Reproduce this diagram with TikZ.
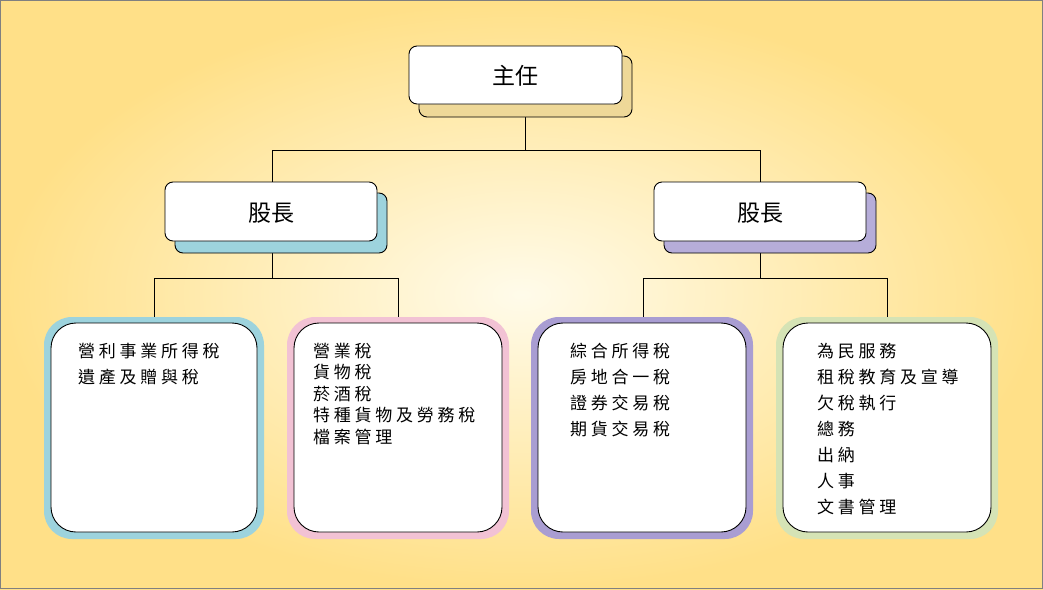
\documentclass[tikz,border=0pt]{standalone}
\usepackage{fontspec}
\newfontfamily\cjk{Noto Sans CJK TC}
\newfontfamily\cjkb[LetterSpace=22]{Noto Sans CJK TC}
\begin{document}
\begin{tikzpicture}[x=1pt,y=-1pt,
  front/.style={fill=white,draw=black,line width=0.9pt,rounded corners=8pt},
  shad/.style={draw=black,line width=0.9pt,rounded corners=8pt},
  ring/.style={rounded corners=28pt},
  inner/.style={fill=white,draw=black,line width=0.9pt,rounded corners=25pt},
  conn/.style={draw=black,line width=0.9pt},
  title/.style={font=\cjk\fontsize{23}{27}\selectfont},
  body/.style={font=\cjkb\fontsize{17}{20}\selectfont,anchor=west,inner sep=0pt}]
\definecolor{bgY}{HTML}{FFE088}
\definecolor{bgC}{HTML}{FFFBEA}
\definecolor{tan}{HTML}{EED898}
\definecolor{teal}{HTML}{9DD3DD}
\definecolor{lav}{HTML}{B6ADD9}
\definecolor{pink}{HTML}{F2C2D4}
\definecolor{purp}{HTML}{A99DD2}
\definecolor{grn}{HTML}{D5E3B5}
\useasboundingbox (0,0) rectangle (1043,589);
\shade[inner color=bgC,outer color=bgY] (0,0) rectangle (1043,589);
\draw[gray,line width=1pt] (0.5,0.5) rectangle (1042.5,588.5);
% connectors
\coordinate (t1) at (525,150); \coordinate (tl) at (272,150); \coordinate (tr) at (760,150);
\draw[conn] (525,117) -- (t1) (tl) -- (tr) (tl) -- (272,182) (tr) -- (760,182);
\coordinate (l1) at (272,278); \coordinate (r1) at (760,278);
\draw[conn] (272,253) -- (l1) (154,278) -- (398,278) (154,278) -- (154,320) (398,278) -- (398,320);
\draw[conn] (760,253) -- (r1) (643,278) -- (887,278) (643,278) -- (643,320) (887,278) -- (887,320);
% top
\draw[shad,fill=tan] (419,56) rectangle (632,117);
\draw[front] (409,46) rectangle (622,104);
\node[title] (boss) at (515,76) {主任};
\draw[shad,fill=teal] (175,193) rectangle (387,253);
\draw[front] (165,182) rectangle (377,241);
\node[title] (ml) at (271,213) {股長};
\draw[shad,fill=lav] (664,193) rectangle (876,253);
\draw[front] (654,182) rectangle (866,241);
\node[title] (mr) at (760,213) {股長};
% bottom boxes
\fill[ring,teal] (44,317) rectangle (264,539);
\draw[inner] (51,323) rectangle (257,532);
\fill[ring,pink] (287,317) rectangle (509,539);
\draw[inner] (294,323) rectangle (502,532);
\fill[ring,purp] (531,317) rectangle (753,539);
\draw[inner] (538,323) rectangle (746,532);
\fill[ring,grn] (776,317) rectangle (998,539);
\draw[inner] (783,323) rectangle (991,532);
\foreach \t [count=\i] in {營利事業所得稅,遺產及贈與稅}
  \node[body] at (78,351+26*\i-26) {\t};
\foreach \t [count=\i] in {營業稅,貨物稅,菸酒稅,特種貨物及勞務稅,檔案管理}
  \node[body] at (313,351+21.5*\i-21.5) {\t};
\foreach \t [count=\i] in {綜合所得稅,房地合一稅,證券交易稅,期貨交易稅}
  \node[body] at (570,351+26*\i-26) {\t};
\foreach \t [count=\i] in {為民服務,租稅教育及宣導,欠稅執行,總務,出納,人事,文書管理}
  \node[body] at (817,351+26*\i-26) {\t};
\end{tikzpicture}
\end{document}
